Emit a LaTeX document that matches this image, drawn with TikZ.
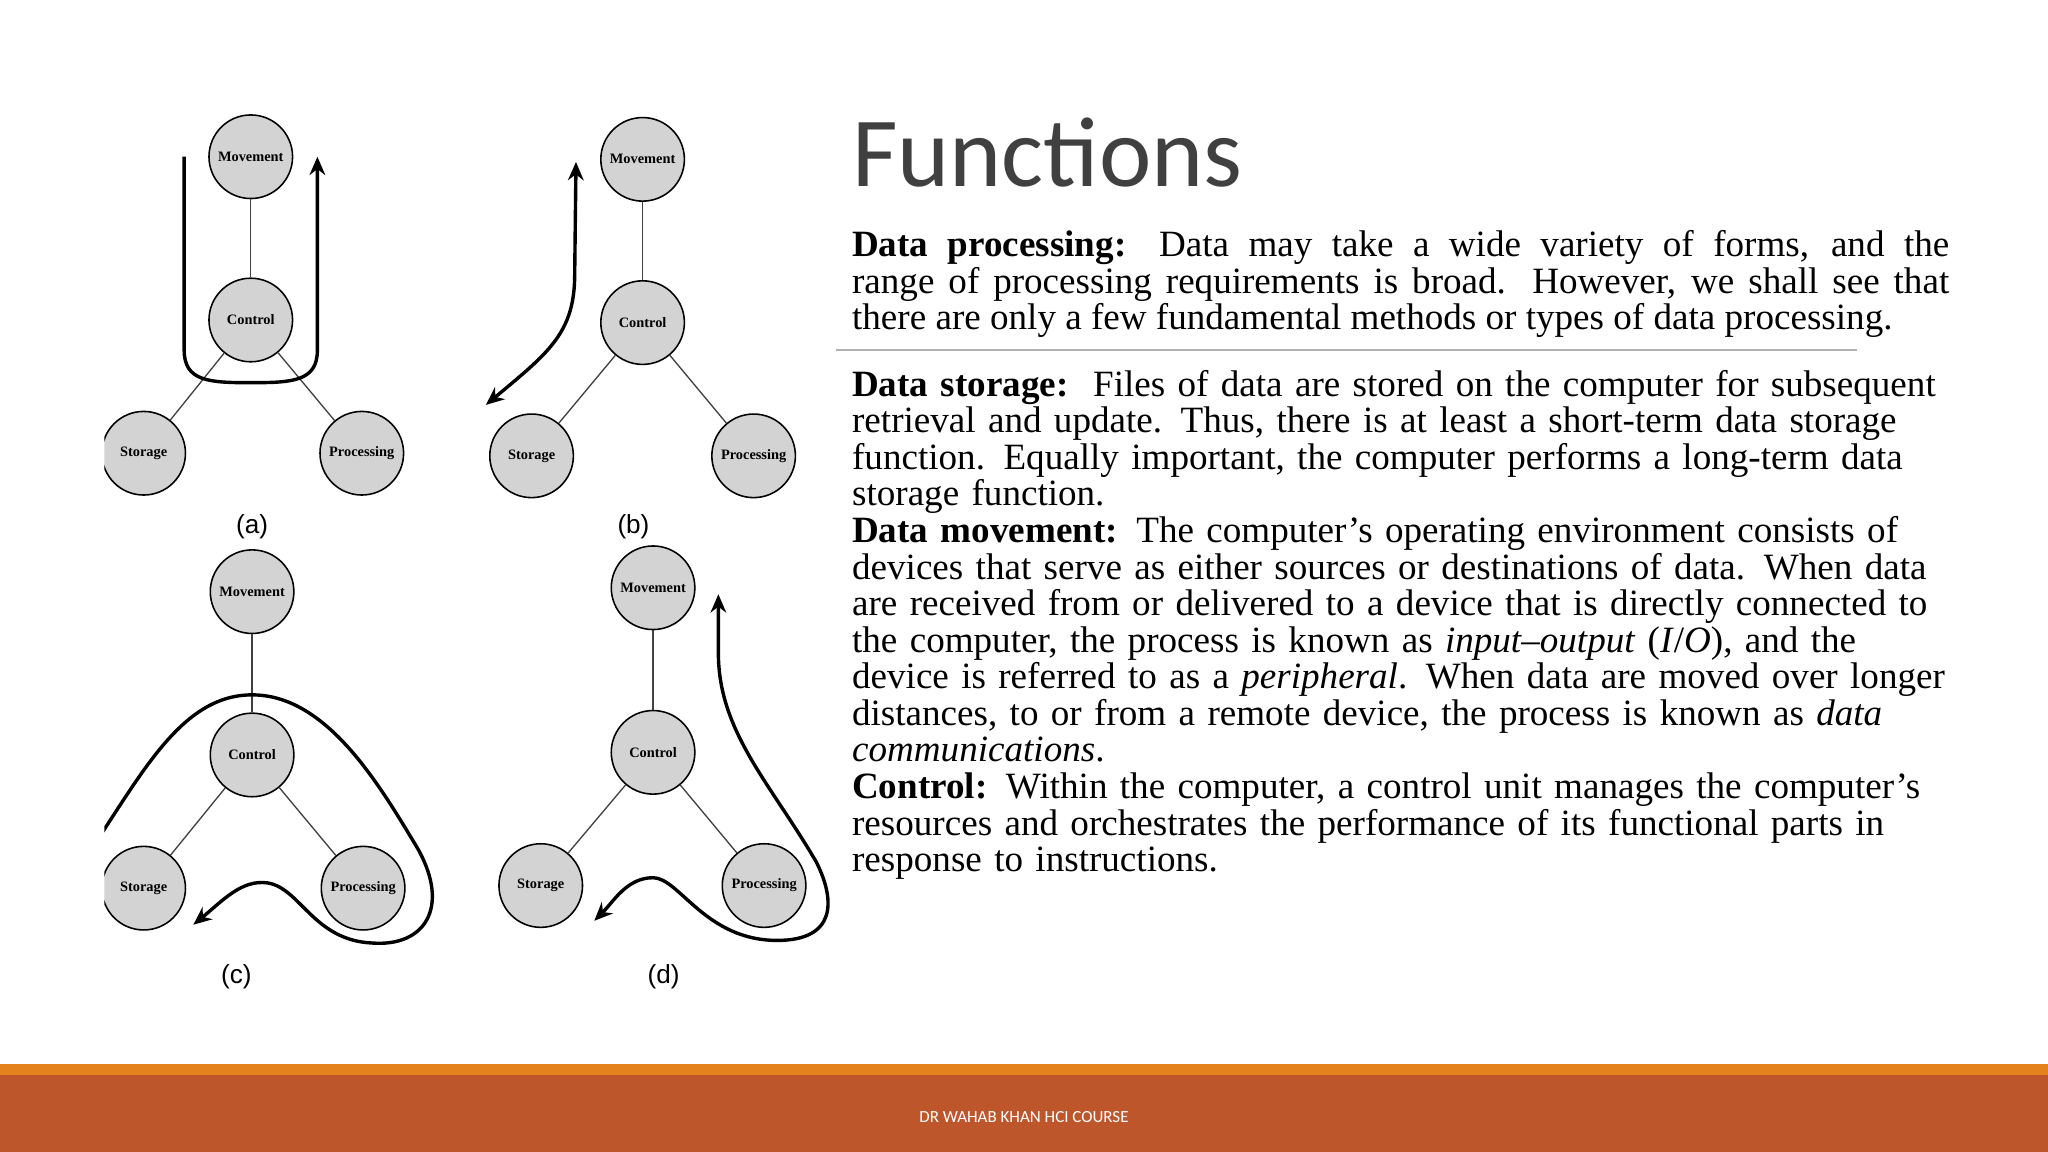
\documentclass[tikz,border=0pt]{standalone}
\usepackage{fontspec}
\setmainfont{Liberation Serif}
\newfontfamily\titlefont{Carlito}
\newfontfamily\labfont{Liberation Sans}
\usetikzlibrary{arrows.meta}
\definecolor{circfill}{RGB}{211,211,211}
\definecolor{footdark}{RGB}{190,86,44}
\definecolor{footlight}{RGB}{228,130,30}
\definecolor{titlegray}{RGB}{64,64,64}
\tikzset{
  unit/.style={circle,draw=black,line width=0.6pt,fill=circfill,minimum size=32pt,inner sep=0pt,font=\fontsize{5.5}{6}\selectfont\bfseries},
  link/.style={line width=0.5pt,draw=black!75},
  flow/.style={line width=1.3pt,-{Stealth[length=7pt,width=6pt]}},
  flowboth/.style={line width=1.3pt,{Stealth[length=7pt,width=6pt]}-{Stealth[length=7pt,width=6pt]}},
  sublab/.style={font=\labfont\fontsize{10}{12}\selectfont},
  body/.style={anchor=north west,inner sep=0pt,text width=420pt,font=\fontsize{14.2}{14}\selectfont}
}
\begin{document}
\begin{tikzpicture}[x=0.5pt,y=-0.5pt]
\useasboundingbox (0,0) rectangle (1568,882);
\fill[white] (0,0) rectangle (1568,882);
% footer
\fill[footlight] (0,815) rectangle (1568,823);
\fill[footdark] (0,823) rectangle (1568,882);
\node[text=white,font=\titlefont\fontsize{6.5}{8}\selectfont] (foot) at (784,855) {DR WAHAB KHAN HCI COURSE};
% title
\node[anchor=base west,inner sep=0pt,text=titlegray,font=\titlefont\fontsize{38}{44}\selectfont] (title) at (652,143) {Functions};
% text
\node[body,align=justify] (p1) at (652,176) {\textbf{Data processing:} Data may take a wide variety of forms, and the\linebreak range of processing requirements is broad. However, we shall see that\linebreak there are only a few fundamental methods or types of data processing.};
\coordinate (hl1) at (640,268);
\coordinate (hl2) at (1422,268);
\draw[black!30,line width=0.6pt] (hl1) -- (hl2);
\node[body,align=left] (p2) at (652,283) {\textbf{Data storage:}\ \ Files of data are stored on the computer for subsequent\\ retrieval and update. Thus, there is at least a short-term data storage\\ function. Equally important, the computer performs a long-term data\\ storage function.\\
\textbf{Data movement:} The computer’s operating environment consists of\\ devices that serve as either sources or destinations of data. When data\\ are received from or delivered to a device that is directly connected to\\ the computer, the process is known as \textit{input–output} (\textit{I}/\textit{O}), and the\\ device is referred to as a \textit{peripheral}. When data are moved over longer\\ distances, to or from a remote device, the process is known as \textit{data}\\ \textit{communications}.\\
\textbf{Control:} Within the computer, a control unit manages the computer’s\\ resources and orchestrates the performance of its functional parts in\\ response to instructions.};
% diagrams
\begin{scope}
\clip (80,60) rectangle (645,780);
% (a)
\node[unit] (am) at (192,120) {Movement};
\node[unit] (ac) at (192,245) {Control};
\node[unit] (as) at (110,347) {Storage};
\node[unit] (ap) at (277,347) {Processing};
\draw[link] (am) -- (ac); \draw[link] (ac) -- (as); \draw[link] (ac) -- (ap);
\coordinate (aS) at (141,120); \coordinate (aE) at (243,120);
\draw[flow] (aS) -- (141,268) .. controls (141,292) and (160,293) .. (192,293) .. controls (224,293) and (243,292) .. (243,268) -- (aE);
\node[sublab] (la) at (193,403) {(a)};
% (b)
\node[unit] (bm) at (492,122) {Movement};
\node[unit] (bc) at (492,247) {Control};
\node[unit] (bs) at (407,349) {Storage};
\node[unit] (bp) at (577,349) {Processing};
\draw[link] (bm) -- (bc); \draw[link] (bc) -- (bs); \draw[link] (bc) -- (bp);
\coordinate (bS) at (372,310); \coordinate (bE) at (441,124);
\draw[flowboth] (bS) .. controls (420,270) and (440,255) .. (440,210) -- (bE);
\node[sublab] (lb) at (485,403) {(b)};
% (c)
\node[unit] (cm) at (193,453) {Movement};
\node[unit] (cc) at (193,578) {Control};
\node[unit] (cs) at (110,680) {Storage};
\node[unit] (cp) at (278,680) {Processing};
\draw[link] (cm) -- (cc); \draw[link] (cc) -- (cs); \draw[link] (cc) -- (cp);
\coordinate (cS) at (70,650); \coordinate (cE) at (148,708);
\draw[flow] (cS) .. controls (110,590) and (140,532) .. (193,532) .. controls (250,532) and (290,600) .. (320,650) .. controls (345,695) and (325,725) .. (285,722) .. controls (240,720) and (230,680) .. (205,676) .. controls (185,673) and (170,690) .. (cE);
\node[sublab] (lc) at (181,748) {(c)};
% (d)
\node[unit] (dm) at (500,450) {Movement};
\node[unit] (dc) at (500,576) {Control};
\node[unit] (ds) at (414,678) {Storage};
\node[unit] (dp) at (585,678) {Processing};
\draw[link] (dm) -- (dc); \draw[link] (dc) -- (ds); \draw[link] (dc) -- (dp);
\coordinate (dS) at (455,705); \coordinate (dE) at (550,455);
\draw[flowboth] (dS) .. controls (470,690) and (480,672) .. (500,672) .. controls (520,672) and (540,720) .. (595,720) .. controls (640,720) and (640,690) .. (625,660) .. controls (590,600) and (550,560) .. (550,500) -- (dE);
\node[sublab] (ld) at (508,748) {(d)};
\end{scope}
\end{tikzpicture}
\end{document}
